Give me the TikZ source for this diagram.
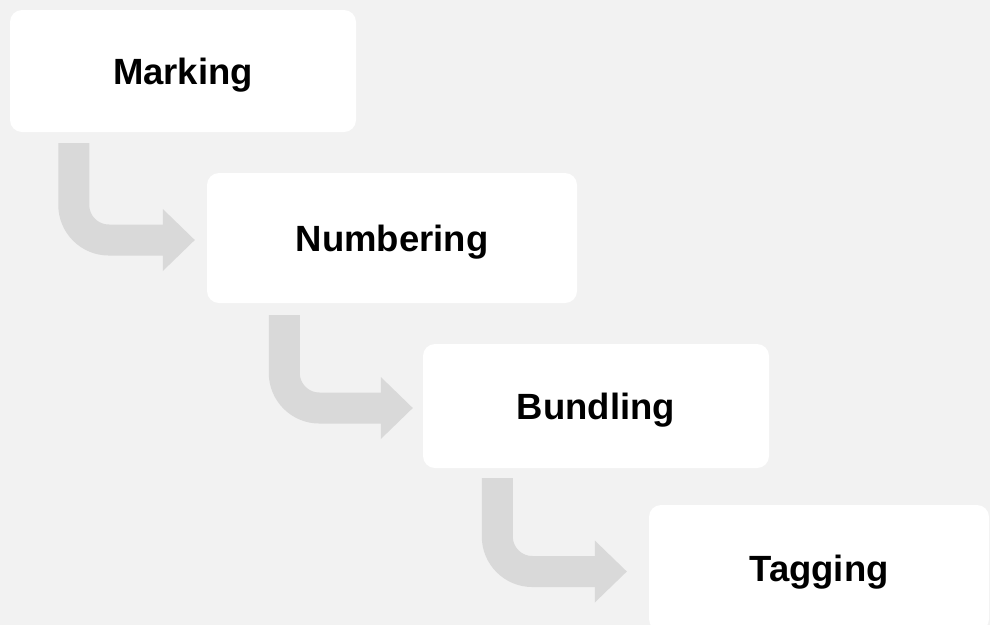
\documentclass[tikz,border=0pt]{standalone}
\usepackage{fontspec}
\setmainfont{Liberation Sans}
\usetikzlibrary{arrows.meta}

\begin{document}
\begin{tikzpicture}[x=1pt,y=-1pt,
  >={Triangle[length=32pt,width=62pt,line width=0pt]},
  stepbox/.style={fill=white,rounded corners=12pt,inner sep=0pt,
    text height=26pt,text depth=0pt,
    font=\fontsize{36.5}{40}\selectfont\bfseries},
  flow/.style={->,cArrow,line width=31pt,rounded corners=35pt}]

% colors
\colorlet{cBack}{black!5}
\colorlet{cArrow}{black!15}

% page and background
\useasboundingbox[fill=cBack] (0,0) rectangle (990,625);

% the four steps
\node[stepbox,minimum width=346pt,minimum height=122pt] (mark) at (183,71) {Marking};
\node[stepbox,minimum width=370pt,minimum height=130pt] (numb) at (392,238) {Numbering};
\node[stepbox,minimum width=346pt,minimum height=124pt] (bund) at (596,406) {Bundling};
\node[stepbox,minimum width=340pt,minimum height=126pt] (tagg) at (819,568) {Tagging};

% bent arrows between the steps
\draw[flow] ([xshift=64pt,yshift=-11pt]mark.south west) |- ([xshift=-12pt,yshift=-2pt]numb.west);
\draw[flow] ([xshift=77.5pt,yshift=-12pt]numb.south west) |- ([xshift=-10pt,yshift=-2pt]bund.west);
\draw[flow] ([xshift=74.5pt,yshift=-10pt]bund.south west) |- ([xshift=-22pt,yshift=-3.5pt]tagg.west);

\end{tikzpicture}
\end{document}
